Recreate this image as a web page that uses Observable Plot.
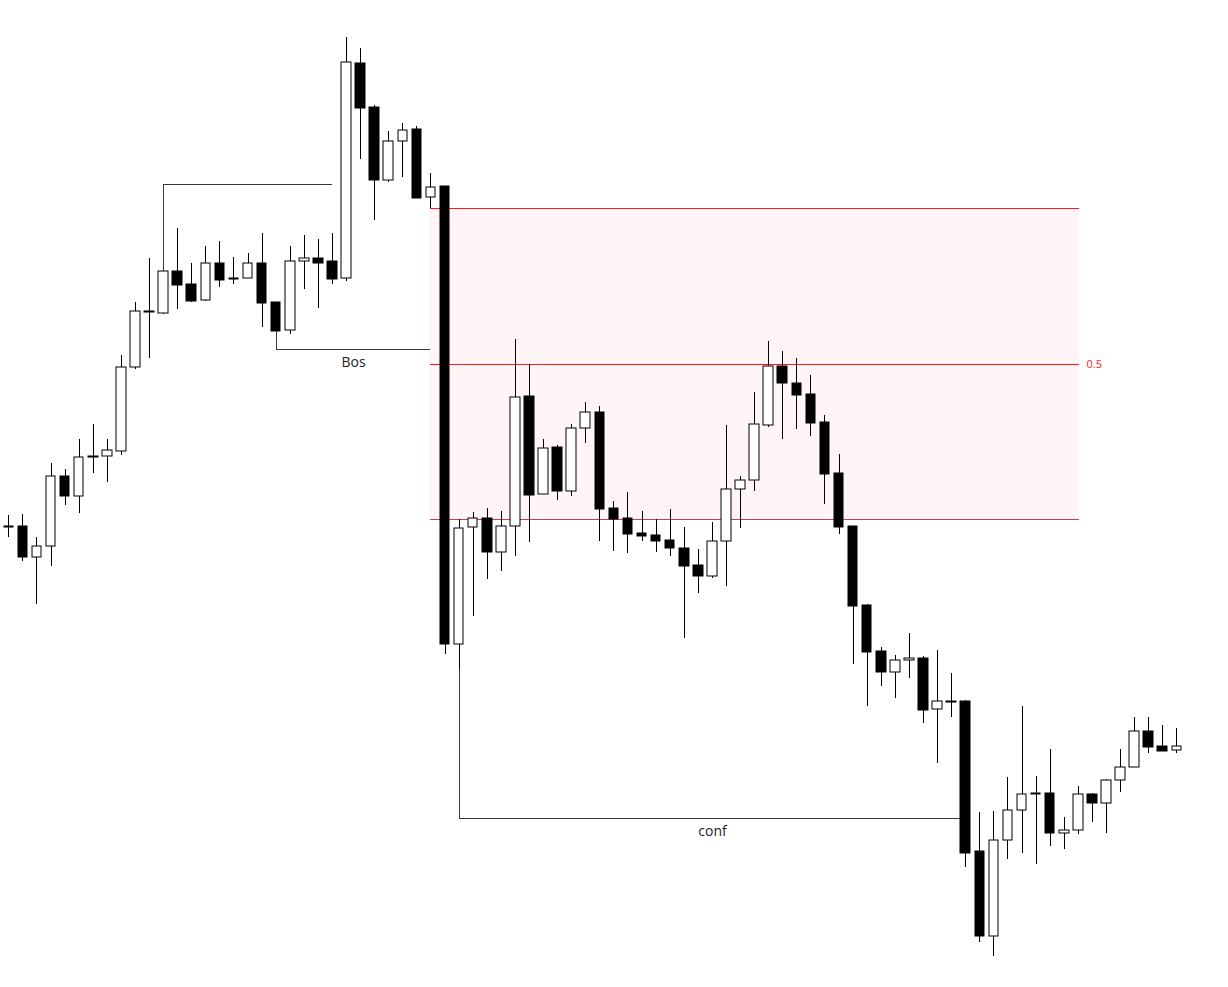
<!DOCTYPE html>
<html><head><meta charset="utf-8">
<script src="https://cdn.jsdelivr.net/npm/d3@7"></script>
<script src="https://cdn.jsdelivr.net/npm/@observablehq/plot@0.6"></script>
<style>html,body{margin:0;padding:0;background:#fff;overflow:hidden}</style>
</head><body><div id="chart"></div>
<script>
// OHLC price values (candle index = position in array)
const open  = [474,474,443,454,524,504,544,544,549,633,689,687,729,716,700,737,722,722,737,698,670,739,742,739,722,937,893,820,859,871,803,814,356,473,482,448,474,604,506,553,509,572,588,492,482,467,465,460,452,435,424,459,511,520,575,634,617,606,578,527,474,395,349,328,340,342,291,299,299,149,64,160,190,207,207,167,170,206,197,220,233,269,254,250];
const high  = [485,486,463,537,531,561,576,561,645,698,742,729,772,737,754,759,743,747,767,698,754,765,761,767,963,952,895,869,877,874,827,814,481,488,492,489,661,636,561,555,576,598,594,499,508,489,481,491,473,451,478,575,524,608,659,649,642,625,585,546,474,396,353,345,367,344,350,327,300,188,189,223,294,224,251,183,214,207,221,251,283,283,275,272];
const low   = [463,439,396,434,495,487,527,518,545,631,642,686,691,698,699,713,716,722,673,669,666,711,692,716,719,841,780,818,823,802,792,346,331,384,421,429,444,458,506,500,504,557,459,449,447,459,448,444,362,407,422,414,472,509,573,561,571,564,496,466,336,294,314,302,322,277,237,283,133,58,44,141,147,136,154,151,166,178,167,208,233,247,249,247];
const close = [473,443,454,524,504,543,543,550,633,689,688,729,715,699,737,720,721,737,697,669,739,742,737,721,938,892,820,859,870,802,813,356,472,482,448,474,603,505,552,509,572,588,491,481,466,464,459,452,434,424,459,511,520,576,634,617,605,577,526,473,394,348,328,340,342,290,299,298,147,64,160,190,206,206,167,170,206,197,220,233,269,253,249,254];

// Premium zone (from candle 30 low to candle 32 high), with its 0.5 level
const zoneFrom = 30, zoneTo = 76.1;
const zoneTop = 792, zoneBottom = 481;
const zoneMid = (zoneTop + zoneBottom) / 2;
const zoneLabel = "0.5";

// Structure lines: level, start candle, end candle, anchor price of the vertical leg
const bosLevel  = [816, 651];
const bosFrom   = [11, 19];
const bosTo     = [23, 30];
const bosAnchor = [729, 669];
const confLevel = [182];
const confFrom  = [32];
const confTo    = [68];
const confAnchor = [356];

// Labels
const labelText = ["Bos", "conf"];
const labelX    = [24.5, 50];
const labelY    = [638, 169];

const candles = open.map((o, i) => ({i, open: o, high: high[i], low: low[i], close: close[i]}));
const segs = bosLevel.map((l, k) => ({level: l, from: bosFrom[k], to: bosTo[k], anchor: bosAnchor[k]}))
  .concat(confLevel.map((l, k) => ({level: l, from: confFrom[k], to: confTo[k], anchor: confAnchor[k]})));
const labels = labelText.map((t, k) => ({t, x: labelX[k], y: labelY[k]}));

const chart = Plot.plot({
  width: 1228,
  height: 987,
  margin: 0,
  style: {fontFamily: "'Open Sans', 'Noto Sans', sans-serif", background: "#fff"},
  x: {domain: [0, 83], range: [8.3, 1176.3], round: true, axis: null},
  y: {domain: [13, 1000], range: [987, 0], round: true, axis: null},
  marks: [
    Plot.rect([{}], {x1: zoneFrom, x2: zoneTo, y1: zoneBottom, y2: zoneTop, fill: "#fff4f6"}),
    Plot.ruleY([zoneTop], {x1: zoneFrom, x2: zoneTo, stroke: "#ff1a1a", strokeWidth: 1}),
    Plot.ruleY([zoneMid], {x1: zoneFrom, x2: zoneTo, stroke: "#ff1a1a", strokeWidth: 1}),
    Plot.ruleY([zoneBottom], {x1: zoneFrom, x2: zoneTo, stroke: "#cf3e50", strokeWidth: 1}),
    Plot.text([zoneLabel], {x: zoneTo, y: zoneMid, text: d => d, textAnchor: "start", dx: 7, fill: "#ff1a1a", fontSize: 11}),
    Plot.ruleY(segs, {y: "level", x1: "from", x2: "to", stroke: "#3a3a3a", strokeWidth: 1}),
    Plot.ruleX(segs, {x: "from", y1: "anchor", y2: "level", stroke: "#3a3a3a", strokeWidth: 1}),
    Plot.text(labels, {x: "x", y: "y", text: "t", fill: "#222", fontSize: 14}),
    Plot.ruleX(candles, {x: "i", y1: "low", y2: "high", stroke: "#000", strokeWidth: 1}),
    Plot.rect(candles, {
      x1: d => d.i - 0.34, x2: d => d.i + 0.34,
      y1: "open", y2: "close",
      fill: d => d.close > d.open ? "#fff" : "#000",
      stroke: "#000", strokeWidth: 1
    })
  ]
});
document.getElementById("chart").appendChild(chart);
</script>
</body></html>
